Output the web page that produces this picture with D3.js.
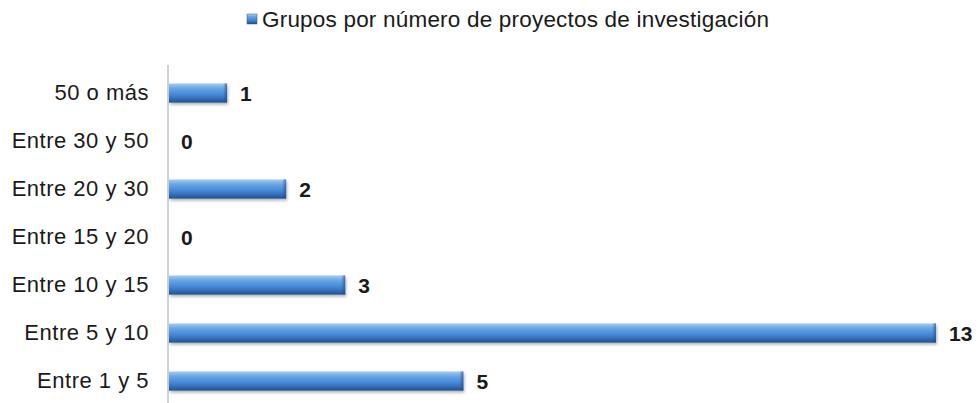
<!DOCTYPE html>
<html>
<head>
<meta charset="utf-8">
<script src="https://cdn.jsdelivr.net/npm/d3@7"></script>
<style>
  body { margin: 0; background: #fff; }
  svg { display: block; font-family: "Liberation Sans", Arial, sans-serif; }
</style>
</head>
<body>
<svg width="980" height="403"></svg>
<script>
const categories = ["50 o más", "Entre 30 y 50", "Entre 20 y 30", "Entre 15 y 20", "Entre 10 y 15", "Entre 5 y 10", "Entre 1 y 5"]
const values = [1, 0, 2, 0, 3, 13, 5]
const seriesName = "Grupos por número de proyectos de investigación"

const svg = d3.select("svg")

// gradient for the bevelled bars
const defs = svg.append("defs")
const grad = defs.append("linearGradient")
    .attr("id", "barGrad")
    .attr("x1", 0).attr("y1", 0).attr("x2", 0).attr("y2", 1)
grad.append("stop").attr("offset", "0%").attr("stop-color", "#a9cdf2")
grad.append("stop").attr("offset", "25%").attr("stop-color", "#6aa6e6")
grad.append("stop").attr("offset", "65%").attr("stop-color", "#3f82d0")
grad.append("stop").attr("offset", "100%").attr("stop-color", "#1f4f8f")

const endGrad = defs.append("linearGradient")
    .attr("id", "endGrad")
    .attr("x1", 0).attr("y1", 0).attr("x2", 1).attr("y2", 0)
endGrad.append("stop").attr("offset", "0%").attr("stop-color", "#1f4f8f").attr("stop-opacity", 0)
endGrad.append("stop").attr("offset", "100%").attr("stop-color", "#1f4f8f").attr("stop-opacity", 0.7)

const shadow = defs.append("filter").attr("id", "shadow")
    .attr("x", "-5%").attr("y", "-50%").attr("width", "110%").attr("height", "200%")
shadow.append("feDropShadow")
    .attr("dx", 1).attr("dy", 2).attr("stdDeviation", 1.5)
    .attr("flood-color", "#000").attr("flood-opacity", 0.3)

const xScale = d3.scaleLinear().domain([0, 13]).range([168, 936])
const yScale = d3.scaleBand().domain(categories).range([69, 405]).paddingInner(0.6).paddingOuter(0.3)

// vertical axis line
svg.append("line")
    .attr("x1", xScale(0)).attr("x2", xScale(0))
    .attr("y1", 65).attr("y2", 403)
    .attr("stroke", "#a6a6a6")
    .attr("stroke-width", 1)

const yAxis = d3.axisLeft(yScale).tickSize(0).tickPadding(19)
svg.append("g")
    .attr("id", "yAxisG")
    .attr("transform", `translate(${xScale(0)}, 0)`)
    .call(yAxis)

d3.select("#yAxisG").select("path.domain").style("display", "none")
d3.select("#yAxisG").selectAll("text")
    .attr("font-size", 22)
    .attr("letter-spacing", 0.5)
    .attr("font-family", "Liberation Sans, Arial, sans-serif")
    .attr("fill", "#1a1a1a")

const data = categories.map((c, i) => ({ cat: c, val: values[i] }))

const bars = svg.append("g")
    .selectAll("g.bar")
    .data(data.filter(d => d.val > 0))
    .enter()
    .append("g")
    .attr("class", "bar")

bars.append("rect")
    .attr("x", xScale(0) + 1)
    .attr("y", d => yScale(d.cat))
    .attr("width", d => xScale(d.val) - xScale(0) - 1)
    .attr("height", yScale.bandwidth())
    .attr("fill", "url(#barGrad)")
    .attr("filter", "url(#shadow)")

// darker bevel at bar end
bars.append("rect")
    .attr("x", d => xScale(d.val) - 4)
    .attr("y", d => yScale(d.cat))
    .attr("width", 4)
    .attr("height", yScale.bandwidth())
    .attr("fill", "url(#endGrad)")

svg.append("g")
    .selectAll("text")
    .data(data)
    .enter()
    .append("text")
    .attr("x", d => xScale(d.val) + 13)
    .attr("y", d => yScale(d.cat) + yScale.bandwidth() / 2)
    .attr("dy", "0.36em")
    .attr("font-size", 21)
    .attr("font-weight", "bold")
    .attr("fill", "#1a1a1a")
    .text(d => d.val)

// legend
const legend = svg.append("g").attr("transform", "translate(247, 14)")
legend.append("rect")
    .attr("width", 10).attr("height", 10)
    .attr("fill", "url(#barGrad)")
    .attr("stroke", "#2a5a9a").attr("stroke-width", 0.5)
legend.append("text")
    .attr("x", 15).attr("y", 13)
    .attr("font-size", 22.5)
    .attr("letter-spacing", 0.2)
    .attr("fill", "#1a1a1a")
    .text(seriesName)
</script>
</body>
</html>
